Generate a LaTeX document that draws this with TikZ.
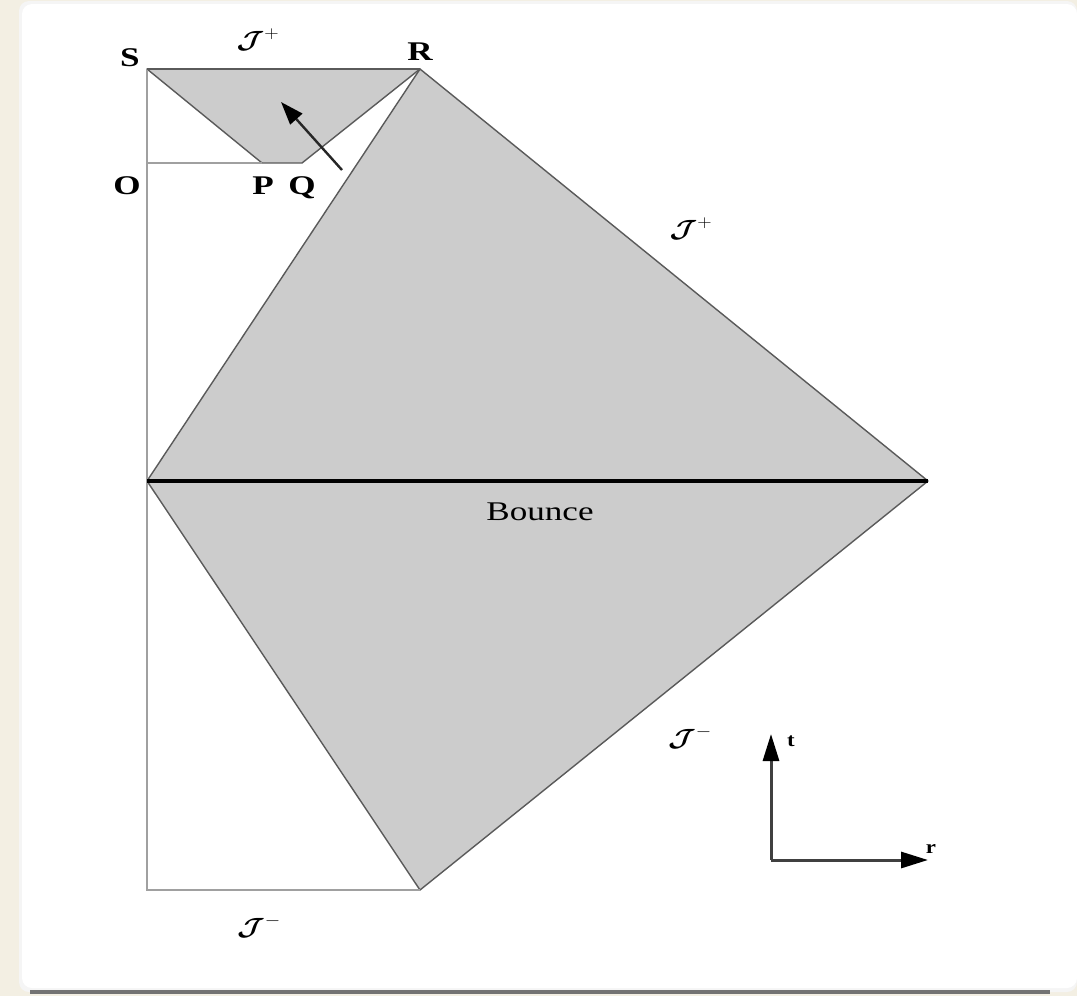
\documentclass[tikz,border=0pt]{standalone}
\usepackage{amsmath}
\usepackage{bm}
\usepackage{fontspec}
\setmainfont{Liberation Serif}
\usetikzlibrary{arrows.meta}
\definecolor{bgbeige}{HTML}{F3EFE3}
\definecolor{fillgray}{HTML}{CCCCCC}
\definecolor{edgegray}{HTML}{5A5A5A}
\definecolor{lightline}{HTML}{A0A0A0}
\newcommand{\scrJ}[1]{$\bm{\mathcal{J}}^{\raisebox{1pt}{\fontsize{17}{17}\selectfont$#1$}}$}
\tikzset{
  lbl/.style={font=\fontsize{27}{30}\selectfont\bfseries, xscale=1.3, inner sep=0pt},
  scri/.style={font=\fontsize{32}{34}\selectfont, xscale=1.15, inner sep=0pt},
  region/.style={fill=fillgray, draw=edgegray, line width=1.4pt, line join=round},
  thinline/.style={draw=lightline, line width=2pt},
  axis/.style={draw=black!75, line width=3pt, -{Triangle[length=27pt,width=16pt,color=black,fill=black]}},
  pointer/.style={draw=black!85, line width=2.4pt, -{Triangle[length=23pt,width=16pt,color=black,fill=black]}}
}
\begin{document}
\begin{tikzpicture}[x=1pt,y=-1pt]
\useasboundingbox (0,0) rectangle (1077,996);
\fill[bgbeige] (0,0) rectangle (1077,996);
\fill[black!4, rounded corners=10pt] (19,1) rectangle (1077,992);
\fill[white, rounded corners=10pt] (22,4) rectangle (1077,988);
\draw[black!55, line width=4pt] (30,992) -- (1050,992);

% points
\coordinate (S) at (147,69);
\coordinate (R) at (420,69);
\coordinate (O) at (147,163);
\coordinate (P) at (262,163);
\coordinate (Q) at (302,163);
\coordinate (BL) at (147,481);
\coordinate (BR) at (928,481);
\coordinate (Bot) at (420,890);
\coordinate (BotL) at (147,890);

% regions
\path[region] (R) -- (BR) -- (Bot) -- (BL) -- cycle;
\path[region] (S) -- (R) -- (Q) -- (P) -- cycle;

% thin lines
\draw[thinline] (S) -- (BotL) -- (Bot);
\draw[thinline] (O) -- (P);
\draw[edgegray, line width=1.6pt] (S) -- (R);

% bounce
\draw[black, line width=4pt] (BL) -- (BR);

% pointer arrow
\coordinate (a1) at (342,170);
\coordinate (a2) at (281,102);
\draw[pointer] (a1) -- (a2);

% axes
\coordinate (ax0) at (771,860);
\coordinate (axt) at (771,734);
\coordinate (axr) at (928,860);
\draw[axis] (ax0) -- (axt);
\draw[axis] (ax0) -- (axr);

% labels
\node[lbl] (lS) at (130,58) {S};
\node[lbl] (lR) at (420,52) {R};
\node[lbl] (lO) at (127,186) {O};
\node[lbl] (lP) at (263,186) {P};
\node[lbl] (lQ) at (302,188) {Q};
\node[scri] (j1) at (258,40) {\scrJ{+}};
\node[scri] (j2) at (691,229) {\scrJ{+}};
\node[scri] (j3) at (690,738) {\scrJ{-}};
\node[scri] (j4) at (259,927) {\scrJ{-}};
\node[font=\fontsize{27}{30}\selectfont, xscale=1.3, inner sep=0pt] (bounce) at (540,512) {Bounce};
\node[font=\fontsize{19}{22}\selectfont\bfseries, xscale=1.2, inner sep=0pt] (tl) at (791,741) {t};
\node[font=\fontsize{19}{22}\selectfont\bfseries, xscale=1.2, inner sep=0pt] (rl) at (931,849) {r};
\end{tikzpicture}
\end{document}
